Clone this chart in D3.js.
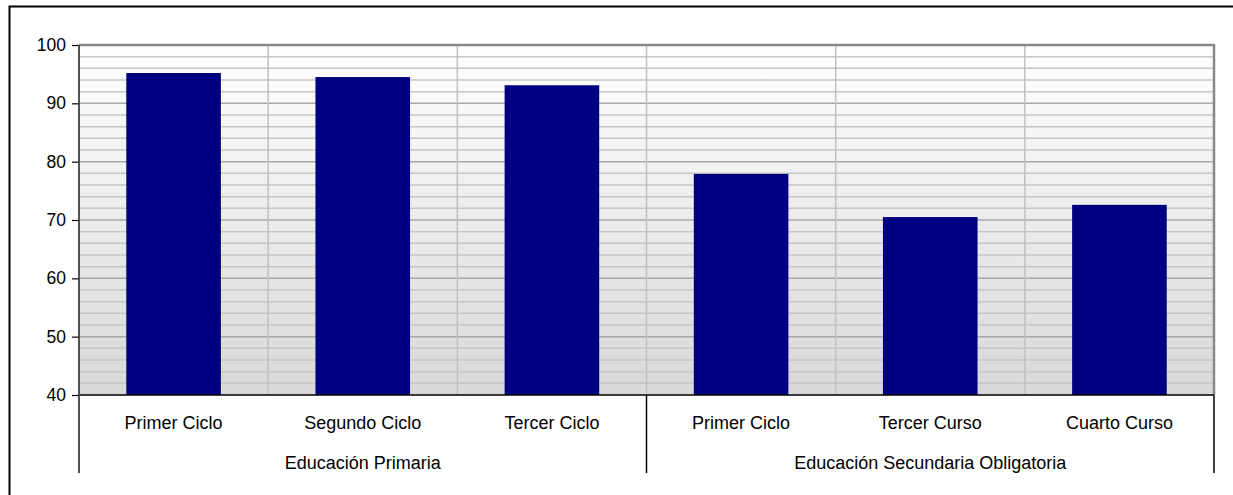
<!DOCTYPE html>
<html><head><meta charset="utf-8">
<script src="https://cdn.jsdelivr.net/npm/d3@7"></script>
<style>body{margin:0;background:#fff}svg{display:block}text{font-family:"Liberation Sans",Arial,sans-serif;fill:#000}</style>
</head><body><svg id="c" width="1233" height="495"></svg>
<script>
const categories = ["Primer Ciclo","Segundo Ciclo","Tercer Ciclo","Primer Ciclo","Tercer Curso","Cuarto Curso"];
const groups = ["Educación Primaria","Educación Primaria","Educación Primaria","Educación Secundaria Obligatoria","Educación Secundaria Obligatoria","Educación Secundaria Obligatoria"];
const values = [95.2, 94.5, 93.1, 77.9, 70.5, 72.6];
const yTicks = [40,50,60,70,80,90,100];
const groupNames = ["Educación Primaria","Educación Secundaria Obligatoria"];

const svg = d3.select("#c");
const L=79, R=1214, T=45, B=395;
const idx = d3.range(categories.length);
const x = d3.scaleBand().domain(idx).range([L,R]).paddingInner(0.5).paddingOuter(0.25);
const xb = d3.scaleBand().domain(idx).range([L,R]);
const y = d3.scaleLinear().domain([40,100]).range([B,T]);

// outer frame
svg.append("rect").attr("x",9.5).attr("y",6.5).attr("width",1240).attr("height",520).attr("fill","none").attr("stroke","#000").attr("stroke-width",2);

const defs = svg.append("defs");
const g = defs.append("linearGradient").attr("id","bg").attr("x1",0).attr("y1",0).attr("x2",0).attr("y2",1);
g.append("stop").attr("offset",0).attr("stop-color","#ffffff");
g.append("stop").attr("offset",1).attr("stop-color","#d8d8d8");
svg.append("rect").attr("x",L).attr("y",T).attr("width",R-L).attr("height",B-T).attr("fill","url(#bg)");

// minor gridlines
const minor = d3.range(42,100,2).filter(v=>v%10!==0);
svg.append("g").selectAll("line").data(minor).join("line")
  .attr("x1",L).attr("x2",R).attr("y1",d=>y(d)).attr("y2",d=>y(d))
  .attr("stroke","#c6c6c6").attr("stroke-width",1.5);
svg.append("g").selectAll("line").data(yTicks.filter(v=>v>40&&v<100)).join("line")
  .attr("x1",L).attr("x2",R).attr("y1",d=>y(d)).attr("y2",d=>y(d))
  .attr("stroke","#a8a8a8").attr("stroke-width",1.5);
// vertical gridlines
svg.append("g").selectAll("line").data(idx.slice(1)).join("line")
  .attr("x1",d=>xb(d)).attr("x2",d=>xb(d)).attr("y1",T).attr("y2",B)
  .attr("stroke","#c0c0c0").attr("stroke-width",1.5);

// plot border top/right
svg.append("path").attr("d",`M${L},${T}H${R}V${B}`).attr("fill","none").attr("stroke","#888").attr("stroke-width",2.5);

// bars
svg.append("g").selectAll("rect").data(values).join("rect")
  .attr("x",(d,i)=>x(i)).attr("width",x.bandwidth())
  .attr("y",d=>y(d)).attr("height",d=>B-y(d)).attr("fill","#000080");

// x axis line
svg.append("line").attr("x1",L).attr("x2",R).attr("y1",B).attr("y2",B).attr("stroke","#000").attr("stroke-width",1.5);
// y axis
const ya = svg.append("g").attr("transform",`translate(${L},0)`)
  .call(d3.axisLeft(y).tickValues(yTicks).tickSize(7).tickPadding(6));
ya.select(".domain").remove();
ya.selectAll(".tick line").attr("stroke","#000").attr("stroke-width",1.2);
ya.selectAll(".tick text").attr("font-size",17.5).attr("font-family","Liberation Sans, Arial, sans-serif").attr("fill","#000");
svg.append("line").attr("x1",L).attr("x2",L).attr("y1",T).attr("y2",473).attr("stroke","#404040").attr("stroke-width",1.8);

// category labels
svg.append("g").selectAll("text").data(categories).join("text")
  .attr("x",(d,i)=>xb(i)+xb.bandwidth()/2).attr("y",429).attr("text-anchor","middle").attr("font-size",18).text(d=>d);
// group separators and labels
const gInfo = groupNames.map(n=>{const ii=idx.filter(i=>groups[i]===n);return {n,s:xb(ii[0]),e:xb(ii[ii.length-1])+xb.bandwidth()};});
svg.append("g").selectAll("line").data(gInfo.map(d=>d.e)).join("line")
  .attr("x1",d=>d).attr("x2",d=>d).attr("y1",B).attr("y2",473).attr("stroke","#000").attr("stroke-width",1.5);
svg.append("g").selectAll("text").data(gInfo).join("text")
  .attr("x",d=>(d.s+d.e)/2).attr("y",469).attr("text-anchor","middle").attr("font-size",18).text(d=>d.n);
</script></body></html>
